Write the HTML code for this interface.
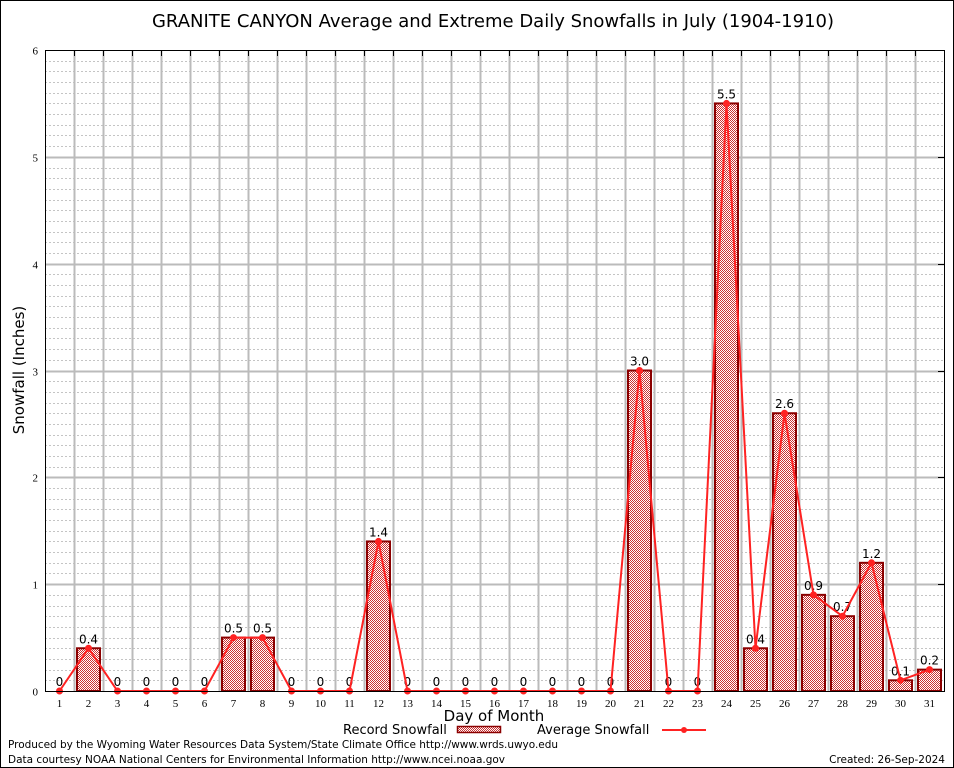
<!DOCTYPE html>
<html><head><meta charset="utf-8"><style>
body{margin:0;background:#fff;}
svg{display:block;font-family:"DejaVu Sans","Liberation Sans",sans-serif;}
</style></head><body>
<svg id="c" width="954" height="768">
<defs>
<pattern id="chk" width="2" height="2" patternUnits="userSpaceOnUse">
<rect width="2" height="2" fill="#fff"/><rect width="1" height="1" fill="#c33"/><rect x="1" y="1" width="1" height="1" fill="#c33"/>
</pattern>
</defs>
<rect x="0.5" y="0.5" width="953" height="767" fill="#fff" stroke="#000"/>
<text x="493" y="27" font-size="18" text-anchor="middle">GRANITE CANYON Average and Extreme Daily Snowfalls in July (1904-1910)</text>
<g id="grid"></g>
<g id="bars"></g>
<g id="line"></g>
<rect x="45.5" y="50.5" width="899" height="641" fill="none" stroke="#000"/>
<g id="axes"></g>
<text transform="translate(24,370) rotate(-90)" font-size="15" text-anchor="middle">Snowfall (Inches)</text>
<text x="494" y="721" font-size="15" text-anchor="middle">Day of Month</text>
<g>
<text x="343" y="734" font-size="13">Record Snowfall</text>
<rect x="457.5" y="726.5" width="43" height="6" fill="url(#chk)" stroke="#8b0000" stroke-width="1.5"/>
<text x="537" y="734" font-size="13">Average Snowfall</text>
<line x1="662" y1="730" x2="706" y2="730" stroke="#f22" stroke-width="2"/>
<circle cx="684" cy="730" r="3" fill="#f22"/>
</g>
<text x="8" y="748" font-size="10.5" textLength="550">Produced by the Wyoming Water Resources Data System/State Climate Office http://www.wrds.uwyo.edu</text>
<text x="8" y="763" font-size="10.5" textLength="497">Data courtesy NOAA National Centers for Environmental Information http://www.ncei.noaa.gov</text>
<text x="945" y="763" font-size="10.5" text-anchor="end">Created:  26-Sep-2024</text>
</svg>
<script>
const days=[1,2,3,4,5,6,7,8,9,10,11,12,13,14,15,16,17,18,19,20,21,22,23,24,25,26,27,28,29,30,31];
const recordSnow=[0,0.4,0,0,0,0,0.5,0.5,0,0,0,1.4,0,0,0,0,0,0,0,0,3.0,0,0,5.5,0.4,2.6,0.9,0.7,1.2,0.1,0.2];
const avgSnow=[0,0.4,0,0,0,0,0.5,0.5,0,0,0,1.4,0,0,0,0,0,0,0,0,3.0,0,0,5.5,0.4,2.6,0.9,0.7,1.2,0.1,0.2];
const yTicks=[0,1,2,3,4,5,6];
const NS='http://www.w3.org/2000/svg';
const L=45,R=944,T=50,B=691,YMAX=6;
const slot=(R-L)/days.length;
function xs(d){return L+slot*(d-0.5);}
function ys(v){return B-(v/YMAX)*(B-T);}
function mk(tag,attrs,parent){const e=document.createElementNS(NS,tag);for(const k in attrs)e.setAttribute(k,attrs[k]);parent.appendChild(e);return e;}
const grid=document.getElementById('grid'),bars=document.getElementById('bars'),line=document.getElementById('line'),axes=document.getElementById('axes');
for(let i=1;i<YMAX*10;i++){
 if(i%10===0)continue;
 const y=Math.round(ys(i/10))+0.5;
 const g=mk('line',{x1:L,x2:R,y1:y,y2:y,stroke:'#c4c4c4','stroke-dasharray':'2,2','stroke-width':1},grid);
 
 
}
yTicks.forEach(t=>{
 const y=Math.round(ys(t))+0.5;
 if(t>0&&t<YMAX){const g=mk('line',{x1:L,x2:R,y1:y,y2:y,stroke:'#bbb','stroke-width':2},grid);
 
 }
 const tk=mk('line',{x1:R-6,x2:R,y1:y,y2:y,stroke:'#000'},axes);
 
 
 const tx=mk('text',{x:38,y:y+4,'font-size':11,'text-anchor':'end','font-family':'Liberation Serif, serif'},axes);
 tx.textContent=t;
 
 
});
for(let k=1;k<days.length;k++){
 const x=Math.round(L+slot*k)+0.5;
 const g=mk('line',{x1:x,x2:x,y1:T,y2:B,stroke:'#bbb','stroke-width':2},grid);
 
 
 const tk=mk('line',{x1:x,x2:x,y1:T,y2:T+6,stroke:'#000'},axes);
 
 
}
days.forEach((d,i)=>{
 const x=xs(d);
 const lb=mk('text',{x:x,y:707,'font-size':11,'text-anchor':'middle','font-family':'Liberation Serif, serif'},axes);
 lb.textContent=d;
 
 
 const v=recordSnow[i];
 if(v>0){
  const r=mk('rect',{x:x-11.5,y:ys(v),width:23,height:B-ys(v),fill:'url(#chk)',stroke:'#8b0000','stroke-width':2},bars);
  
  
 }
 const t=mk('text',{x:x,y:ys(v)-5,'font-size':12,'text-anchor':'middle'},bars);
 t.textContent=v===0?'0':v.toFixed(1);
 
 
});
const pts=days.map((d,i)=>xs(d)+','+ys(avgSnow[i])).join(' ');
const pl=mk('polyline',{points:pts,fill:'none',stroke:'#f22','stroke-width':2},line);


days.forEach((d,i)=>{
 const c=mk('circle',{cx:xs(d),cy:ys(avgSnow[i]),r:3.5,fill:'#f22'},line);
 
 
});
</script>
</body></html>
